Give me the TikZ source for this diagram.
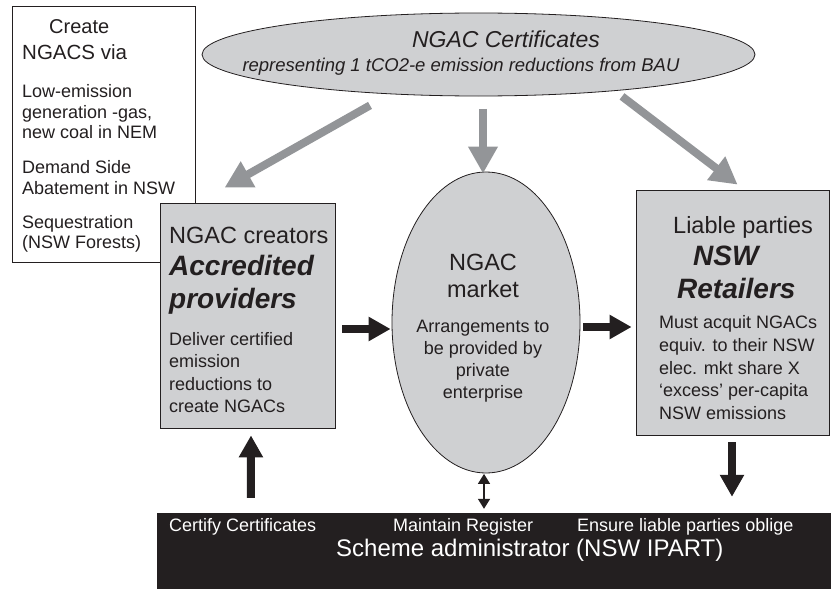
\documentclass[tikz,border=0pt]{standalone}
\usepackage{fontspec}
\setmainfont{Liberation Sans}
\usetikzlibrary{arrows.meta,shapes.geometric}
\definecolor{boxfill}{RGB}{207,208,210}
\definecolor{arrgray}{RGB}{147,149,152}
\definecolor{ink}{RGB}{35,31,32}
\newcommand\txtsize[1]{\fontsize{#1}{#1}\selectfont}
\begin{document}
\begin{tikzpicture}[x=1pt,y=-1pt,
  txt/.style={inner sep=0pt, anchor=base west, text=ink},
  ctxt/.style={inner sep=0pt, anchor=base, text=ink},
  wtxt/.style={inner sep=0pt, anchor=base west, text=white},
  plainbox/.style={draw=ink, line width=0.8pt, fill=white, rectangle, inner sep=0pt},
  graybox/.style={draw=ink, line width=0.8pt, fill=boxfill, rectangle, inner sep=0pt},
  grayell/.style={draw=ink, line width=0.8pt, fill=boxfill, ellipse, inner sep=0pt},
  adminbox/.style={draw=ink, fill=ink, rectangle, inner sep=0pt},
  grayarrow/.style={draw=arrgray, line width=8pt, -{Triangle[length=27pt,width=28pt]}},
  blackarrow/.style={draw=ink, line width=8pt, -{Triangle[length=22pt,width=23pt]}},
  duoarrow/.style={draw=ink, line width=1.6pt, {Triangle[length=10pt,width=12pt]}-{Triangle[length=10pt,width=12pt]}},
  small/.style={font=\txtsize{18}},
  mid/.style={font=\txtsize{23.5}},
  big/.style={font=\txtsize{28}\bfseries\itshape}
]
\useasboundingbox (0,0) rectangle (831,589);

% left source box
\node[plainbox, minimum width=183pt, minimum height=256pt] (src) at (103.5,134) {};
\node[txt, font=\txtsize{20}] (srcA) at (49,33) {Create};
\node[txt, font=\txtsize{20.5}] (srcB) at (22,59) {NGACS via};
\node[txt, small] (srcC) at (22,97.5) {Low-emission};
\node[txt, small] (srcD) at (22,118) {generation -gas,};
\node[txt, small] (srcE) at (22,138.5) {new coal in NEM};
\node[txt, small] (srcF) at (22,173) {Demand Side};
\node[txt, small] (srcG) at (22,194) {Abatement in NSW};
\node[txt, small] (srcH) at (22,228) {Sequestration};
\node[txt, small] (srcI) at (22,248.5) {(NSW Forests)};

% top ellipse
\node[grayell, minimum width=553pt, minimum height=83pt] (cert) at (478.5,54.5) {};
\node[ctxt, font=\txtsize{23}\itshape] (certA) at (506,47) {NGAC Certificates};
\node[ctxt, font=\txtsize{18.5}\itshape] (certB) at (461,71) {representing 1 tCO2-e emission reductions from BAU};

% creators
\node[graybox, minimum width=175pt, minimum height=225pt] (creators) at (247.5,315.5) {};
\node[txt, mid] (creA) at (169,243) {NGAC creators};
\node[txt, big] (creB) at (169,275) {Accredited};
\node[txt, big] (creC) at (169,308) {providers};
\node[txt, small] (creD) at (169,345) {Deliver certified};
\node[txt, small] (creE) at (169,367.5) {emission};
\node[txt, small] (creF) at (169,390) {reductions to};
\node[txt, small] (creG) at (169,412) {create NGACs};

% market
\node[grayell, minimum width=188pt, minimum height=301pt] (market) at (486,322.5) {};
\node[ctxt, mid] (marA) at (483,270) {NGAC};
\node[ctxt, mid] (marB) at (483,297) {market};
\node[ctxt, small] (marC) at (483,332) {Arrangements to};
\node[ctxt, small] (marD) at (483,354.5) {be provided by};
\node[ctxt, small] (marE) at (483,376.5) {private};
\node[ctxt, small] (marF) at (483,398) {enterprise};

% retailers
\node[graybox, minimum width=193pt, minimum height=245pt] (retail) at (732.5,312.5) {};
\node[txt, mid] (retA) at (673,233) {Liable parties};
\node[txt, big] (retB) at (693,265) {NSW};
\node[txt, big] (retC) at (677,298) {Retailers};
\node[txt, small] (retD) at (659,328) {Must acquit NGACs};
\node[txt, small] (retE) at (659,351.5) {equiv. to their NSW};
\node[txt, small] (retF) at (659,374) {elec. mkt share X};
\node[txt, small] (retG) at (659,396.5) {‘excess’ per-capita};
\node[txt, small] (retH) at (659,419) {NSW emissions};

% administrator
\node[adminbox, minimum width=674pt, minimum height=76pt] (admin) at (494,551) {};
\node[wtxt, small] (admA) at (169,531) {Certify Certificates};
\node[wtxt, small] (admB) at (393,531) {Maintain Register};
\node[wtxt, small] (admC) at (577,531) {Ensure liable parties oblige};
\node[wtxt, font=\txtsize{24}] (admD) at (336,556) {Scheme administrator (NSW IPART)};

% gray arrows from certificates
\draw[grayarrow] ([xshift=-108.5pt,yshift=-9pt]cert.south) -- ([xshift=65pt,yshift=15pt]creators.north west);
\draw[grayarrow] ([xshift=4.5pt,yshift=-12.5pt]cert.south) -- ([xshift=-3pt,yshift=-2pt]market.north);
\draw[grayarrow] ([xshift=143.5pt,yshift=0pt]cert.south) -- ([xshift=102pt,yshift=5pt]retail.north west);

% black arrows
\draw[blackarrow] ([xshift=7pt,yshift=-13.5pt]creators.east) -- ([xshift=-1pt,yshift=-6.5pt]market.west);
\draw[blackarrow] ([xshift=3pt,yshift=-4.5pt]market.east) -- ([xshift=-4pt,yshift=-14.5pt]retail.west);
\draw[blackarrow] ([xshift=94pt,yshift=15pt]admin.north west) -- ([xshift=3.5pt,yshift=-7pt]creators.south);
\draw[blackarrow] ([xshift=-0.5pt,yshift=-7pt]retail.south) -- ([xshift=238pt,yshift=16pt]admin.north);
\draw[duoarrow] ([xshift=-2pt,yshift=-0.5pt]market.south) -- ([xshift=-10pt,yshift=4pt]admin.north);
\end{tikzpicture}
\end{document}
